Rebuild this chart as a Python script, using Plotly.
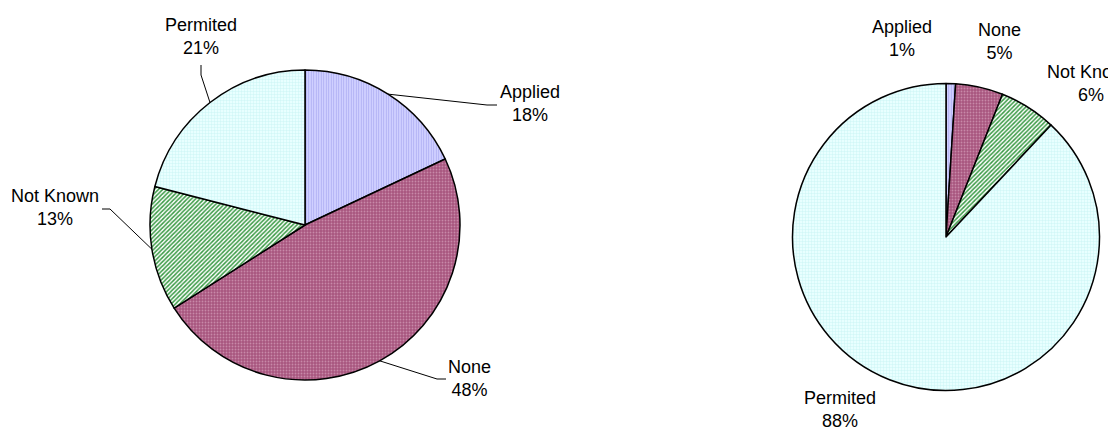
import math
import plotly.graph_objects as go

W, H = 1108, 432

categories = ["Applied", "None", "Not Known", "Permited"]
left_values = [18, 48, 13, 21]
right_values = [1, 5, 6, 88]

FONT = "Arial, Liberation Sans, sans-serif"
FSIZE = 18

# slice fills: (pattern shape, background, foreground, size, solidity)
styles = {
    "Applied": ("|", "#D0D0FF", "#ADADF2", 2.5, 0.35),
    "None": (".", "#A8567F", "#C889A8", 3, 0.3),
    "Not Known": ("/", "#FFFFFF", "#3A9A45", 3, 0.5),
    "Permited": ("+", "#E8FFFF", "#C6F2F2", 3, 0.25),
}

# pie geometry in page pixels: centre x, centre y (from top), radius
left_geo = (305, 225, 155)
right_geo = (946, 237, 153.5)


def domain(geo):
    cx, cy, r = geo
    return dict(x=[(cx - r) / W, (cx + r) / W],
                y=[(H - cy - r) / H, (H - cy + r) / H])


def pie(values, geo):
    return go.Pie(
        labels=categories, values=values, sort=False, direction="clockwise",
        rotation=0, textinfo="none", hoverinfo="label+percent",
        showlegend=False, domain=domain(geo),
        marker=dict(
            colors=[styles[c][1] for c in categories],
            line=dict(color="black", width=1.5),
            pattern=dict(
                shape=[styles[c][0] for c in categories],
                bgcolor=[styles[c][1] for c in categories],
                fgcolor=[styles[c][2] for c in categories],
                size=[styles[c][3] for c in categories],
                solidity=[styles[c][4] for c in categories],
                fillmode="replace",
            ),
        ),
    )


def edge_point(values, idx, geo):
    """Point on the rim at the middle of slice idx (clockwise from 12 o'clock)."""
    cx, cy, r = geo
    total = sum(values)
    start = sum(values[:idx]) / total
    mid = (start + values[idx] / total / 2) * 2 * math.pi
    return cx + r * math.sin(mid), cy - r * math.cos(mid)


fig = go.Figure()
fig.add_trace(pie(left_values, left_geo))
fig.add_trace(pie(right_values, right_geo))

# label block centres
left_text_pos = {"Applied": (530, 104), "None": (469, 378),
                 "Not Known": (55, 208), "Permited": (201, 36)}
right_text_pos = {"Applied": (902, 38), "None": (999, 42),
                  "Not Known": (1091, 84), "Permited": (840, 409)}

# leader line elbows for the left pie: (elbow, end)
left_leaders = {"Applied": ((487, 105), (497, 105)),
                "None": ((437, 379), (446, 379)),
                "Not Known": ((110, 209), (102, 209)),
                "Permited": ((201, 75), (201, 65))}

annotations = []
for values, positions in ((left_values, left_text_pos), (right_values, right_text_pos)):
    total = sum(values)
    for c, v in zip(categories, values):
        x, y = positions[c]
        annotations.append(dict(
            x=x / W, y=1 - y / H, xref="paper", yref="paper",
            text=f"{c}<br>{round(100 * v / total)}%", showarrow=False,
            xanchor="center", yanchor="middle", align="center",
            font=dict(family=FONT, size=FSIZE, color="black"),
        ))

shapes = []
for i, c in enumerate(categories):
    px, py = edge_point(left_values, i, left_geo)
    (ex, ey), (tx, ty) = left_leaders[c]
    path = f"M {px / W} {1 - py / H} L {ex / W} {1 - ey / H} L {tx / W} {1 - ty / H}"
    shapes.append(dict(type="path", path=path, xref="paper", yref="paper",
                       line=dict(color="black", width=1)))

fig.update_layout(
    width=W, height=H, margin=dict(l=0, r=0, t=0, b=0),
    paper_bgcolor="white", plot_bgcolor="white",
    annotations=annotations, shapes=shapes,
    font=dict(family=FONT, size=FSIZE, color="black"),
)

fig.write_html("out.html")
